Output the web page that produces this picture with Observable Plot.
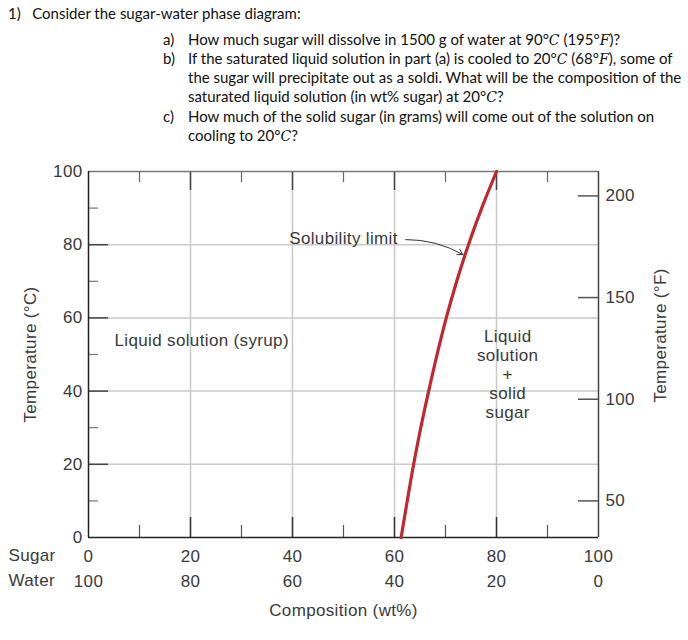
<!DOCTYPE html>
<html>
<head>
<meta charset="utf-8">
<script src="https://cdn.jsdelivr.net/npm/d3@7"></script>
<script src="https://cdn.jsdelivr.net/npm/@observablehq/plot@0.6"></script>
<style>
  html, body { margin: 0; padding: 0; background: #fff; }
  #wrap { position: relative; width: 688px; height: 640px; overflow: hidden; }
  .hl { position: absolute; white-space: nowrap; font-family: Lato, "Open Sans", sans-serif; font-size: 15px; color: #111; line-height: 19px; }
  .hl i { font-family: "DejaVu Serif", "Liberation Serif", serif; font-style: italic; font-size: 14px; }
  #chart { position: absolute; left: 0; top: 150px; }
  #chart svg text { letter-spacing: 0.35px; }
</style>
</head>
<body>
<div id="wrap">
  <div class="hl" style="left:8px; top:4px;">1)&nbsp;&nbsp; Consider the sugar-water phase diagram:</div>
  <div class="hl" style="left:163px; top:30px;">a)</div>
  <div class="hl" style="left:188px; top:30px;">How much sugar will dissolve in 1500 g of water at 90°<i>C</i> (195°<i>F</i>)?</div>
  <div class="hl" style="left:163px; top:49px;">b)</div>
  <div class="hl" style="left:188px; top:49px;">If the saturated liquid solution in part (a) is cooled to 20°<i>C</i> (68°<i>F</i>), some of</div>
  <div class="hl" style="left:188px; top:68px;">the sugar will precipitate out as a soldi. What will be the composition of the</div>
  <div class="hl" style="left:188px; top:87px;">saturated liquid solution (in wt% sugar) at 20°<i>C</i>?</div>
  <div class="hl" style="left:163px; top:107px;">c)</div>
  <div class="hl" style="left:188px; top:107px;">How much of the solid sugar (in grams) will come out of the solution on</div>
  <div class="hl" style="left:188px; top:126px;">cooling to 20°<i>C</i>?</div>
  <div id="chart"></div>
</div>
<script>
// ---- data ----
const solubilityTempC = [0, 10, 20, 30, 40, 50, 60, 70, 80, 90, 100];
const solubilityWtSugar = [61.3, 62.5, 63.75, 65.15, 66.7, 68.35, 70.15, 72.2, 74.5, 77.1, 80.0];
const celsiusTicks = [0, 20, 40, 60, 80, 100];
const celsiusMinor = [10, 30, 50, 70, 90];
const fahrenheitTicks = [50, 100, 150, 200];
const compositionTicks = [0, 20, 40, 60, 80, 100];
const compositionMinor = [10, 30, 50, 70, 90];
const gridComposition = [20, 40, 60, 80];
const gridTemp = [20, 40, 60, 80];

const curve = solubilityTempC.map((t, i) => ({t, wt: solubilityWtSugar[i]}));
const f2c = f => (f - 32) * 5 / 9;
const c2f = c => c * 9 / 5 + 32;

// layout
const W = 688, H = 490, mL = 88, mR = 90, mT = 21, mB = 103;
const pxX = 100 / (W - mL - mR);   // data units per px in x
const pxY = 100 / (H - mT - mB);   // data units per px in y
const txt = "#3a3a3a";
const font = '"Liberation Sans", Arial, sans-serif';

const chart = Plot.plot({
  width: W, height: H,
  marginLeft: mL, marginRight: mR, marginTop: mT, marginBottom: mB,
  x: {domain: [0, 100]},
  y: {domain: [0, 100]},
  style: {fontFamily: font, fontSize: "17px", color: txt, background: "white", overflow: "visible"},
  marks: [
    // grid
    Plot.ruleX(gridComposition, {y1: 0, y2: 100, stroke: "#c9c9c9", strokeWidth: 1.5}),
    Plot.ruleY(gridTemp, {x1: 0, x2: 100, stroke: "#c9c9c9", strokeWidth: 1.5}),
    // left ticks
    Plot.ruleY(gridTemp, {x1: 0, x2: 20 * pxX, stroke: "#444", strokeWidth: 1.5}),
    Plot.ruleY(celsiusMinor, {x1: 0, x2: 10 * pxX, stroke: "#777", strokeWidth: 1.2}),
    // bottom ticks
    Plot.ruleX(gridComposition, {y1: 0, y2: 20 * pxY, stroke: "#333", strokeWidth: 1.5}),
    Plot.ruleX(compositionMinor, {y1: 0, y2: 12 * pxY, stroke: "#555", strokeWidth: 1.2}),
    // top ticks
    Plot.ruleX(gridComposition, {y1: 100, y2: 100 - 19 * pxY, stroke: "#444", strokeWidth: 1.5}),
    Plot.ruleX(compositionMinor, {y1: 100, y2: 100 - 11 * pxY, stroke: "#666", strokeWidth: 1.2}),
    // right ticks (°F)
    Plot.ruleY(fahrenheitTicks.map(f2c), {x1: 100, x2: 100 - 20 * pxX, stroke: "#555", strokeWidth: 1.5}),
    // frame
    Plot.ruleY([100], {x1: 0, x2: 100, stroke: "#777", strokeWidth: 1.5}),
    Plot.ruleX([100], {y1: 0, y2: 100, stroke: "#444", strokeWidth: 1.5}),
    Plot.ruleX([0], {y1: 0, y2: 100, stroke: "#222", strokeWidth: 1.5}),
    Plot.ruleY([0], {x1: 0, x2: 100, stroke: "#222", strokeWidth: 1.5}),
    // solubility curve
    Plot.line(curve, {x: "wt", y: "t", stroke: "#c1272d", strokeWidth: 3.2, curve: "catmull-rom"}),
    // axes labels
    Plot.axisY(celsiusTicks, {anchor: "left", tickSize: 0, tickPadding: 6, label: null, fill: txt}),
    Plot.axisY(fahrenheitTicks.map(f2c), {anchor: "right", tickSize: 0, tickPadding: 7, label: null, fill: txt,
      tickFormat: c => String(Math.round(c2f(c)))}),
    Plot.axisX(compositionTicks, {anchor: "bottom", tickSize: 0, tickPadding: 12, label: null, fill: txt}),
    Plot.axisX(compositionTicks, {anchor: "bottom", tickSize: 0, tickPadding: 37, label: null, fill: txt,
      tickFormat: d => String(100 - d)}),
    Plot.text(["Sugar"], {x: 0, y: 0, dx: -80, dy: 18, textAnchor: "start", fill: txt}),
    Plot.text(["Water"], {x: 0, y: 0, dx: -80, dy: 43, textAnchor: "start", fill: txt}),
    Plot.text(["Composition (wt%)"], {frameAnchor: "bottom", x: 50, dy: 73, lineAnchor: "middle", fill: txt}),
    Plot.text(["Temperature (°C)"], {frameAnchor: "left", y: 50, dx: -58, rotate: -90, textAnchor: "middle", lineAnchor: "middle", fill: txt}),
    Plot.text(["Temperature (°F)"], {frameAnchor: "right", y: 55.2, dx: 62, rotate: -90, textAnchor: "middle", lineAnchor: "middle", fill: txt}),
    // annotations
    Plot.text(["Solubility limit"], {x: 50, y: 81.8, fill: txt}),
    Plot.arrow([{x1: 62.2, y1: 81.4, x2: 73.4, y2: 77.3}], {x1: "x1", y1: "y1", x2: "x2", y2: "y2",
      bend: 15, stroke: "#333", strokeWidth: 1, headLength: 9}),
    Plot.text(["Liquid solution (syrup)"], {x: 22.2, y: 53.8, fill: txt}),
    Plot.text(["Liquid\nsolution\n+\nsolid\nsugar"], {x: 82.2, y: 44.8, fill: txt, lineHeight: 1.12})
  ]
});
document.getElementById("chart").appendChild(chart);
</script>
</body>
</html>
